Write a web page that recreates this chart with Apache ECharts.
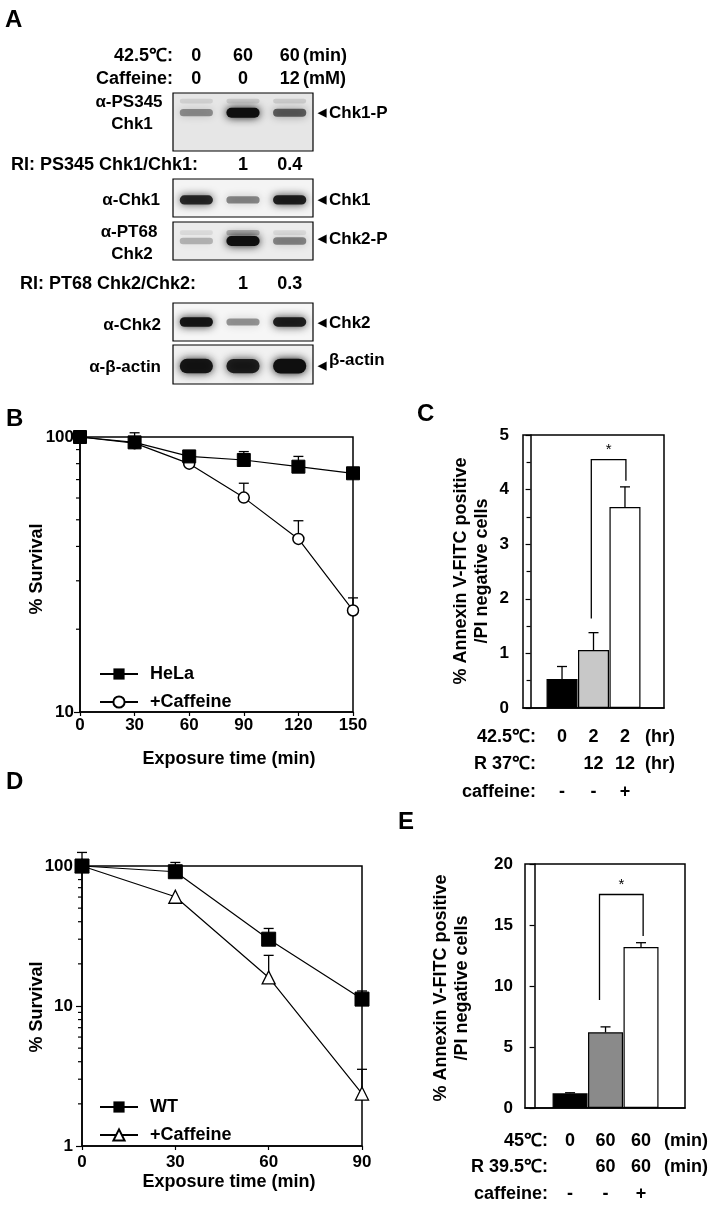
<!DOCTYPE html>
<html>
<head>
<meta charset="utf-8">
<script src="https://cdn.jsdelivr.net/npm/echarts@6/dist/echarts.min.js"></script>
<style>
html, body { margin: 0; padding: 0; background: #fff; }
#main { width: 714px; height: 1207px; }
</style>
</head>
<body>
<div id="main"></div>
<script>
// ---- panel A: western blots ----
var lanes = [0.5, 1.5, 2.5];
var heatRow = ['0', '60', '60'];
var caffRow = ['0', '0', '12'];
var ps345Bands = [0.4, 1.0, 0.6];
var ps345Upper = [0.1, 0.12, 0.12];
var chk1Bands = [0.85, 0.45, 0.9];
var pt68Bands = [0.25, 1.0, 0.45];
var pt68Upper = [0.08, 0.25, 0.08];
var chk2Bands = [0.95, 0.4, 0.9];
var actinBands = [0.95, 0.9, 1.0];
var riChk1 = ['', '1', '0.4'];
var riChk2 = ['', '1', '0.3'];

// ---- panel B: survival, HeLa ----
var bTime = [0, 30, 60, 90, 120, 150];
var bHela = [100, 95.6, 85, 82.5, 78, 73.8];
var bHelaErr = [0, 8, 0, 6, 7, 0];
var bCaff = [100, 95, 80, 60.2, 42.6, 23.4];
var bCaffErr = [0, 0, 0, 7.7, 7, 2.6];
var bMinor = [20, 30, 40, 50, 60, 70, 80, 90];

// ---- panel C: annexin, 42.5C ----
var cX = [1, 2, 3];
var cMean = [0.53, 1.06, 3.68];
var cErr = [0.23, 0.32, 0.37];
var cColors = ['#000000', '#c8c8c8', '#ffffff'];
var cRows = ['42.5℃:', 'R 37℃:', 'caffeine:'];
var cRowVals = [['0', '2', '2'], ['', '12', '12'], ['-', '-', '+']];
var cUnits = ['(hr)', '(hr)', ''];
var cBracket = [1.93, 1.64, 3.03, 4.16, 4.55];

// ---- panel D: survival, WT ----
var dTime = [0, 30, 60, 90];
var dWT = [100, 91, 30, 11.2];
var dWTErr = [25, 15, 5.8, 1.6];
var dCaff = [100, 60.3, 16, 2.37];
var dCaffErr = [0, 0, 7, 1.16];
var dMinor = [2, 3, 4, 5, 6, 7, 8, 9, 20, 30, 40, 50, 60, 70, 80, 90];

// ---- panel E: annexin, 45C ----
var eX = [1, 2, 3];
var eMean = [1.2, 6.2, 13.2];
var eErr = [0.05, 0.45, 0.35];
var eColors = ['#000000', '#8a8a8a', '#ffffff'];
var eRows = ['45℃:', 'R 39.5℃:', 'caffeine:'];
var eRowVals = [['0', '60', '60'], ['', '60', '60'], ['-', '-', '+']];
var eUnits = ['(min)', '(min)', ''];
var eBracket = [1.83, 8.85, 3.06, 14.1, 17.5];

var FONT = '"Liberation Sans", Arial, sans-serif';
var BLACK = '#000';

var blots = [
    { top: 93, height: 58, bands: ps345Bands, yc: 0.66, h: 0.17, upper: ps345Upper, uyc: 0.86, bg: '#e6e6e6' },
    { top: 179, height: 38, bands: chk1Bands, yc: 0.45, h: 0.26, bg: '#f4f4f4' },
    { top: 222, height: 38, bands: pt68Bands, yc: 0.5, h: 0.26, upper: pt68Upper, uyc: 0.72, bg: '#ececec' },
    { top: 303, height: 38, bands: chk2Bands, yc: 0.5, h: 0.26, bg: '#f6f6f6' },
    { top: 345, height: 39, bands: actinBands, yc: 0.46, h: 0.38, bg: '#f1f1f1' }
];

function bandRender(params, api) {
    var lane = api.value(0), yc = api.value(1), h = api.value(2), a = api.value(3);
    var p0 = api.coord([lane - 0.42, yc + h / 2]);
    var p1 = api.coord([lane + 0.42, yc - h / 2]);
    var w = p1[0] - p0[0], hh = p1[1] - p0[1];
    var th = hh * (0.55 + 0.45 * a);
    var c = 'rgba(15,15,15,' + a + ')';
    return {
        type: 'rect',
        shape: { x: p0[0] + 3, y: p0[1] + (hh - th) / 2, width: w - 6, height: th, r: th / 2 },
        style: { fill: c, shadowBlur: 8, shadowColor: c }
    };
}

function errRender(params, api) {
    var x = api.value(0), base = api.value(1), top = api.value(2);
    var p0 = api.coord([x, base]), p1 = api.coord([x, top]);
    var cap = 5;
    var ls = { stroke: BLACK, lineWidth: 1.3 };
    return {
        type: 'group', children: [
            { type: 'line', shape: { x1: p0[0], y1: p0[1], x2: p1[0], y2: p1[1] }, style: ls },
            { type: 'line', shape: { x1: p1[0] - cap, y1: p1[1], x2: p1[0] + cap, y2: p1[1] }, style: ls }
        ]
    };
}

function minorRender(xmin) {
    return function (params, api) {
        var p = api.coord([xmin, api.value(0)]);
        return { type: 'line', shape: { x1: p[0] - 4, y1: p[1], x2: p[0], y2: p[1] }, style: { stroke: BLACK, lineWidth: 1.2 } };
    };
}

function bracketRender(params, api) {
    var a = api.coord([api.value(0), api.value(1)]);
    var t1 = api.coord([api.value(0), api.value(4)]);
    var t2 = api.coord([api.value(2), api.value(4)]);
    var b = api.coord([api.value(2), api.value(3)]);
    return {
        type: 'group', children: [
            { type: 'polyline', shape: { points: [a, t1, t2, b] }, style: { stroke: BLACK, lineWidth: 1.3, fill: null } },
            { type: 'text', x: (t1[0] + t2[0]) / 2, y: t1[1] - 10,
              style: { text: '*', font: '15px ' + FONT, fill: BLACK, align: 'center', verticalAlign: 'middle' } }
        ]
    };
}

function errData(xs, means, errs) {
    var out = [];
    xs.forEach(function (x, i) {
        if (errs[i] > 0) out.push([x, means[i], means[i] + errs[i]]);
    });
    return out;
}

var axisLineStyle = { show: true, lineStyle: { color: BLACK, width: 1.5 } };
var tickStyle = { color: BLACK, width: 1.2 };
var labelStyle = { color: BLACK, fontSize: 17, fontWeight: 'bold', fontFamily: FONT };

var grids = [], xAxes = [], yAxes = [], series = [];

blots.forEach(function (b, i) {
    grids.push({ left: 173, top: b.top, width: 140, height: b.height, show: true,
        borderColor: BLACK, borderWidth: 1.2, backgroundColor: b.bg });
    xAxes.push({ gridIndex: i, type: 'value', min: 0, max: 3, show: false });
    yAxes.push({ gridIndex: i, type: 'value', min: 0, max: 1, show: false });
    var data = lanes.map(function (l, k) { return [l, b.yc, b.h, b.bands[k]]; });
    if (b.upper) {
        lanes.forEach(function (l, k) { data.push([l, b.uyc, b.h * 0.8, b.upper[k]]); });
    }
    series.push({ type: 'custom', coordinateSystem: 'cartesian2d', xAxisIndex: i, yAxisIndex: i,
        clip: true, renderItem: bandRender, data: data, silent: true });
});

// grid 5: B
grids.push({ left: 80, top: 437, width: 273, height: 275, show: true, borderColor: BLACK, borderWidth: 1.5 });
xAxes.push({ gridIndex: 5, type: 'value', min: 0, max: 150, interval: 30, axisLine: axisLineStyle,
    axisTick: { show: true, length: 4, lineStyle: tickStyle }, axisLabel: Object.assign({ margin: 5 }, labelStyle),
    splitLine: { show: false } });
yAxes.push({ gridIndex: 5, type: 'log', logBase: 10, min: 10, max: 100, axisLine: axisLineStyle,
    axisTick: { show: true, length: 6, lineStyle: tickStyle }, axisLabel: Object.assign({ margin: 6 }, labelStyle),
    splitLine: { show: false } });

// grid 6: C
grids.push({ left: 523, top: 435, width: 141, height: 273, show: true, borderColor: BLACK, borderWidth: 1.5 });
xAxes.push({ gridIndex: 6, type: 'value', min: -0.24, max: 4.24, axisLine: axisLineStyle,
    axisTick: { show: false }, axisLabel: { show: false }, splitLine: { show: false } });
yAxes.push({ gridIndex: 6, type: 'value', min: 0, max: 5, interval: 1, axisLine: axisLineStyle,
    axisTick: { show: true, length: 5, lineStyle: tickStyle },
    minorTick: { show: true, splitNumber: 2, length: 4, lineStyle: tickStyle },
    axisLabel: Object.assign({ margin: 14 }, labelStyle), splitLine: { show: false } });

// grid 7: D
grids.push({ left: 82, top: 866, width: 280, height: 280, show: true, borderColor: BLACK, borderWidth: 1.5 });
xAxes.push({ gridIndex: 7, type: 'value', min: 0, max: 90, interval: 30, axisLine: axisLineStyle,
    axisTick: { show: true, length: 4, lineStyle: tickStyle }, axisLabel: Object.assign({ margin: 8 }, labelStyle),
    splitLine: { show: false } });
yAxes.push({ gridIndex: 7, type: 'log', logBase: 10, min: 1, max: 100, axisLine: axisLineStyle,
    axisTick: { show: true, length: 6, lineStyle: tickStyle }, axisLabel: Object.assign({ margin: 9 }, labelStyle),
    splitLine: { show: false } });

// grid 8: E
grids.push({ left: 525, top: 864, width: 160, height: 244, show: true, borderColor: BLACK, borderWidth: 1.5 });
xAxes.push({ gridIndex: 8, type: 'value', min: -0.27, max: 4.24, axisLine: axisLineStyle,
    axisTick: { show: false }, axisLabel: { show: false }, splitLine: { show: false } });
yAxes.push({ gridIndex: 8, type: 'value', min: 0, max: 20, interval: 5, axisLine: axisLineStyle,
    axisTick: { show: true, length: 5, lineStyle: tickStyle },
    axisLabel: Object.assign({ margin: 12 }, labelStyle), splitLine: { show: false } });

function pairs(xs, ys) { return xs.map(function (x, i) { return [x, ys[i]]; }); }

// B series
series.push({ type: 'custom', coordinateSystem: 'cartesian2d', xAxisIndex: 5, yAxisIndex: 5, z: 1,
    renderItem: errRender, data: errData(bTime, bHela, bHelaErr).concat(errData(bTime, bCaff, bCaffErr)), silent: true });
series.push({ type: 'custom', coordinateSystem: 'cartesian2d', xAxisIndex: 5, yAxisIndex: 5,
    renderItem: minorRender(0), data: bMinor.map(function (v) { return [v]; }), silent: true });
series.push({ name: 'B+Caffeine', type: 'line', xAxisIndex: 5, yAxisIndex: 5, z: 3, data: pairs(bTime, bCaff),
    symbol: 'circle', symbolSize: 11, lineStyle: { color: BLACK, width: 1.2 },
    itemStyle: { color: '#fff', borderColor: BLACK, borderWidth: 1.5 } });
series.push({ name: 'HeLa', type: 'line', xAxisIndex: 5, yAxisIndex: 5, z: 4, data: pairs(bTime, bHela),
    symbol: 'rect', symbolSize: 13, lineStyle: { color: BLACK, width: 1.2 },
    itemStyle: { color: BLACK, borderColor: BLACK } });

// C series
series.push({ type: 'bar', xAxisIndex: 6, yAxisIndex: 6, barWidth: 31, z: 2,
    data: cX.map(function (x, i) { return { value: [x, cMean[i]], itemStyle: { color: cColors[i], borderColor: BLACK, borderWidth: 1.2 } }; }) });
series.push({ type: 'custom', coordinateSystem: 'cartesian2d', xAxisIndex: 6, yAxisIndex: 6, z: 3,
    renderItem: errRender, data: errData(cX, cMean, cErr), silent: true });
series.push({ type: 'custom', coordinateSystem: 'cartesian2d', xAxisIndex: 6, yAxisIndex: 6, z: 3,
    renderItem: bracketRender, data: [cBracket], silent: true });

// D series
series.push({ type: 'custom', coordinateSystem: 'cartesian2d', xAxisIndex: 7, yAxisIndex: 7, z: 1,
    renderItem: errRender, data: errData(dTime, dWT, dWTErr).concat(errData(dTime, dCaff, dCaffErr)), silent: true });
series.push({ type: 'custom', coordinateSystem: 'cartesian2d', xAxisIndex: 7, yAxisIndex: 7,
    renderItem: minorRender(0), data: dMinor.map(function (v) { return [v]; }), silent: true });
series.push({ name: 'D+Caffeine', type: 'line', xAxisIndex: 7, yAxisIndex: 7, z: 3, data: pairs(dTime, dCaff),
    symbol: 'triangle', symbolSize: 13, lineStyle: { color: BLACK, width: 1.2 },
    itemStyle: { color: '#fff', borderColor: BLACK, borderWidth: 1.3 } });
series.push({ name: 'WT', type: 'line', xAxisIndex: 7, yAxisIndex: 7, z: 4, data: pairs(dTime, dWT),
    symbol: 'rect', symbolSize: 14, lineStyle: { color: BLACK, width: 1.2 },
    itemStyle: { color: BLACK, borderColor: BLACK } });

// E series
series.push({ type: 'bar', xAxisIndex: 8, yAxisIndex: 8, barWidth: 35, z: 2,
    data: eX.map(function (x, i) { return { value: [x, eMean[i]], itemStyle: { color: eColors[i], borderColor: BLACK, borderWidth: 1.2 } }; }) });
series.push({ type: 'custom', coordinateSystem: 'cartesian2d', xAxisIndex: 8, yAxisIndex: 8, z: 3,
    renderItem: errRender, data: errData(eX, eMean, eErr), silent: true });
series.push({ type: 'custom', coordinateSystem: 'cartesian2d', xAxisIndex: 8, yAxisIndex: 8, z: 3,
    renderItem: bracketRender, data: [eBracket], silent: true });

var legendText = { fontSize: 18, fontWeight: 'bold', color: BLACK, fontFamily: FONT, lineHeight: 14, padding: [0, 0, 0, 7] };
function legendName(n) { return n.replace(/^[BD](?=\+)/, ''); }

var chart = echarts.init(document.getElementById('main'));
chart.setOption({
    animation: false,
    backgroundColor: '#fff',
    textStyle: { fontFamily: FONT },
    grid: grids,
    xAxis: xAxes,
    yAxis: yAxes,
    legend: [
        { left: 99, top: 665, padding: 0, orient: 'vertical', itemWidth: 38, itemHeight: 14, itemGap: 10,
          data: ['HeLa', 'B+Caffeine'], formatter: legendName, textStyle: legendText, selectedMode: false },
        { left: 99, top: 1098, padding: 0, orient: 'vertical', itemWidth: 38, itemHeight: 14, itemGap: 10,
          data: ['WT', 'D+Caffeine'], formatter: legendName, textStyle: legendText, selectedMode: false }
    ],
    series: series
});

// ---- text placed from the grids' own scales ----
function T(x, y, text, o) {
    o = o || {};
    var al = o.align || 'center';
    return { type: 'text', x: x, y: y, rotation: o.rot || 0, silent: true, z: 10,
        style: { text: text, fill: BLACK, font: (o.weight || 'bold') + ' ' + (o.size || 18) + 'px ' + FONT,
                 align: al, verticalAlign: 'middle', textAlign: al, textVerticalAlign: 'middle' } };
}
function px(gi, x) { return chart.convertToPixel({ gridIndex: gi }, [x, gi === 5 || gi === 7 ? 10 : 0])[0]; }

var g = [];
// panel letters
g.push(T(5, 20, 'A', { size: 24, align: 'left' }));
g.push(T(6, 419, 'B', { size: 24, align: 'left' }));
g.push(T(417, 414, 'C', { size: 24, align: 'left' }));
g.push(T(6, 782, 'D', { size: 24, align: 'left' }));
g.push(T(398, 822, 'E', { size: 24, align: 'left' }));

// panel A header
var headY = [56, 79];
g.push(T(173, headY[0], '42.5℃:', { align: 'right' }));
g.push(T(173, headY[1], 'Caffeine:', { align: 'right' }));
lanes.forEach(function (l, k) {
    var x = px(0, l);
    g.push(T(x, headY[0], heatRow[k]));
    g.push(T(x, headY[1], caffRow[k]));
    if (riChk1[k]) g.push(T(x, 165, riChk1[k]));
    if (riChk2[k]) g.push(T(x, 284, riChk2[k]));
});
g.push(T(303, headY[0], '(min)', { align: 'left' }));
g.push(T(303, headY[1], '(mM)', { align: 'left' }));
g.push(T(198, 165, 'RI: PS345 Chk1/Chk1:', { align: 'right' }));
g.push(T(196, 284, 'RI: PT68 Chk2/Chk2:', { align: 'right' }));

// blot labels (left)
g.push(T(129, 102, 'α-PS345', { size: 17 }));
g.push(T(132, 124, 'Chk1', { size: 17 }));
g.push(T(160, 200, 'α-Chk1', { size: 17, align: 'right' }));
g.push(T(129, 232, 'α-PT68', { size: 17 }));
g.push(T(132, 254, 'Chk2', { size: 17 }));
g.push(T(161, 325, 'α-Chk2', { size: 17, align: 'right' }));
g.push(T(161, 367, 'α-β-actin', { size: 17, align: 'right' }));

// blot labels (right, arrows)
[[113, 'Chk1-P', 0], [200, 'Chk1', 0], [239, 'Chk2-P', 0], [323, 'Chk2', 0], [366, 'β-actin', -6]].forEach(function (r) {
    g.push(T(322, r[0], '◀', { size: 11 }));
    g.push(T(329, r[0] + r[2], r[1], { size: 17, align: 'left' }));
});

// axis titles B and D
g.push(T(37, 569, '% Survival', { rot: Math.PI / 2 }));
g.push(T(229, 759, 'Exposure time (min)'));
g.push(T(37, 1007, '% Survival', { rot: Math.PI / 2 }));
g.push(T(229, 1182, 'Exposure time (min)'));

// axis titles C and E
g.push(T(461, 571, '% Annexin V-FITC positive', { rot: Math.PI / 2 }));
g.push(T(482, 571, '/PI negative cells', { rot: Math.PI / 2 }));
g.push(T(441, 988, '% Annexin V-FITC positive', { rot: Math.PI / 2 }));
g.push(T(462, 988, '/PI negative cells', { rot: Math.PI / 2 }));

// condition rows C
var cRowY = [737, 764, 792];
cRows.forEach(function (lab, r) {
    g.push(T(536, cRowY[r], lab, { align: 'right' }));
    cX.forEach(function (x, k) { if (cRowVals[r][k]) g.push(T(px(6, x), cRowY[r], cRowVals[r][k])); });
    if (cUnits[r]) g.push(T(645, cRowY[r], cUnits[r], { align: 'left' }));
});
// condition rows E
var eRowY = [1141, 1167, 1194];
eRows.forEach(function (lab, r) {
    g.push(T(548, eRowY[r], lab, { align: 'right' }));
    eX.forEach(function (x, k) { if (eRowVals[r][k]) g.push(T(px(8, x), eRowY[r], eRowVals[r][k])); });
    if (eUnits[r]) g.push(T(664, eRowY[r], eUnits[r], { align: 'left' }));
});

chart.setOption({ graphic: { elements: g } });
</script>
</body>
</html>
